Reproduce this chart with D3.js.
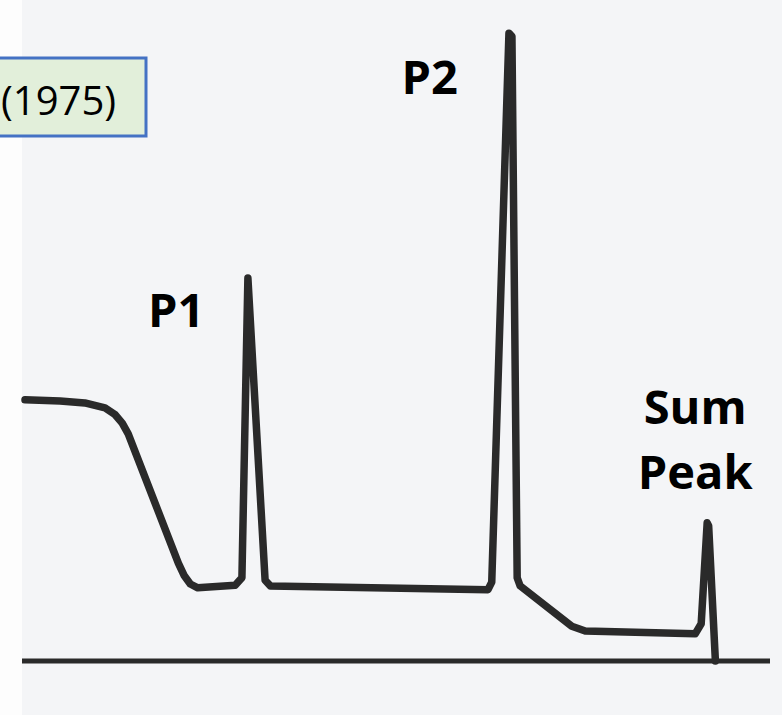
<!DOCTYPE html>
<html>
<head>
<meta charset="utf-8">
<script src="https://cdn.jsdelivr.net/npm/d3@7"></script>
<style>
  body { margin: 0; background: #fdfdfd; }
  svg { display: block; }
</style>
</head>
<body>
<div id="chart"></div>
<script>
// -------------------- Data --------------------

// hand-drawn spectrum (channel 0..1000, counts 0..100)
const channel = [4, 51, 84, 111, 124, 134, 142, 209, 217, 225, 235, 285, 294, 302, 325, 332,
                 623, 628, 651, 655, 662, 666, 735, 753, 900, 908, 916, 918, 927];
const counts = [41.4, 41.2, 40.9, 40.1, 39.1, 37.7, 36.0, 15.5, 13.5, 12.2, 11.6, 12.0, 13.2, 60.7, 12.8, 11.9,
                11.3, 12.5, 99.5, 99.0, 13.2, 11.9, 5.5, 4.75, 4.3, 5.9, 21.9, 21.4, 0];

// peak annotations: text and the (channel, counts) point where the text sits
const labelText = ["P1", "P2", "Sum", "Peak"];
const labelChannel = [206, 545, 900, 900];
const labelCounts = [52.9, 89.8, 37.5, 27.3];

const refText = "(1975)";

// -------------------- Chart --------------------

const WIDTH = 782;
const HEIGHT = 715;

const svg = d3.select("#chart")
    .append("svg")
    .attr("width", WIDTH)
    .attr("height", HEIGHT)
    .attr("viewBox", [0, 0, WIDTH, HEIGHT]);

const x = d3.scaleLinear().domain([0, 1000]).range([22, 770]);
const y = d3.scaleLinear().domain([0, 100]).range([661, 30]);

// scanned paper
svg.append("rect")
    .attr("x", 22)
    .attr("y", 0)
    .attr("width", WIDTH - 22)
    .attr("height", HEIGHT)
    .attr("fill", "#f4f5f7");

// baseline (zero counts)
svg.append("line")
    .attr("x1", x(0))
    .attr("x2", x(1000))
    .attr("y1", y(0))
    .attr("y2", y(0))
    .attr("stroke", "#2a2a2a")
    .attr("stroke-width", 5);

// spectrum trace
const line = d3.line()
    .x((d, i) => x(channel[i]))
    .y(d => y(d));

svg.append("path")
    .datum(counts)
    .attr("d", line)
    .attr("fill", "none")
    .attr("stroke", "#2a2a2a")
    .attr("stroke-width", 7.5)
    .attr("stroke-linejoin", "round")
    .attr("stroke-linecap", "round");

// peak labels
svg.append("g")
    .attr("font-family", "'Open Sans', sans-serif")
    .attr("font-weight", "bold")
    .attr("font-size", 47)
    .attr("fill", "#000")
    .attr("text-anchor", "middle")
    .selectAll("text")
    .data(labelText)
    .join("text")
    .attr("x", (d, i) => x(labelChannel[i]))
    .attr("y", (d, i) => y(labelCounts[i]))
    .text(d => d);

// reference box, cut by the left edge
const box = svg.append("g");
box.append("rect")
    .attr("x", -20)
    .attr("y", 58)
    .attr("width", 166)
    .attr("height", 78)
    .attr("fill", "#e2efda")
    .attr("stroke", "#4472c4")
    .attr("stroke-width", 3);
box.append("text")
    .attr("x", 1)
    .attr("y", 115)
    .attr("font-family", "'Open Sans', sans-serif")
    .attr("font-size", 40)
    .attr("fill", "#000")
    .text(refText);
</script>
</body>
</html>
